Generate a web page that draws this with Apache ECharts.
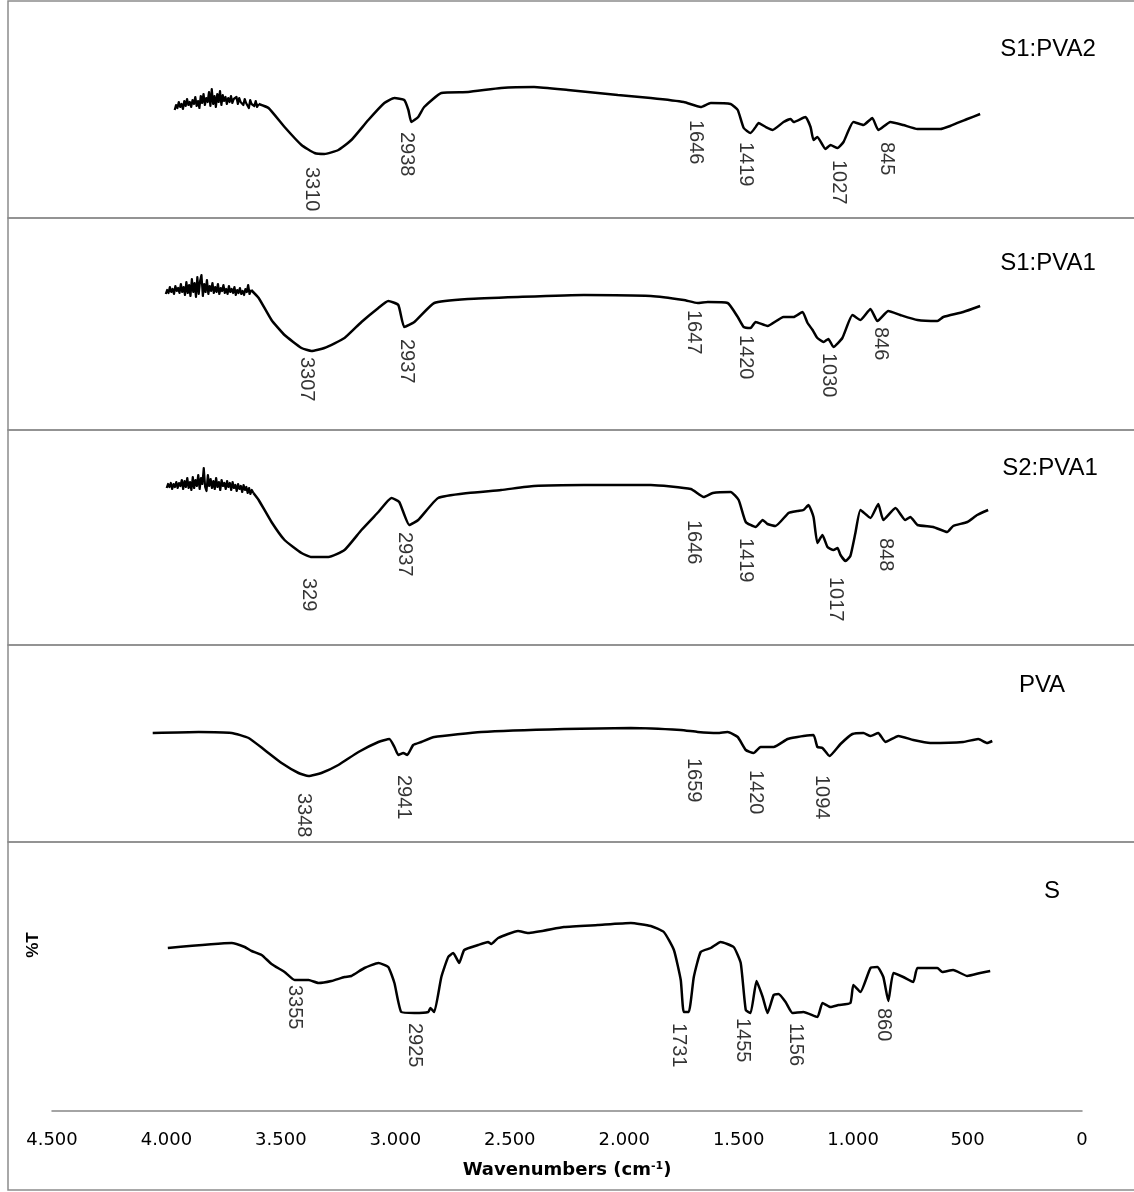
<!DOCTYPE html>
<html>
<head>
<meta charset="utf-8">
<script src="https://cdn.jsdelivr.net/npm/echarts/dist/echarts.min.js"></script>
<style>
  html, body { margin: 0; padding: 0; background: #fff; }
  #chart { width: 1134px; height: 1192px; }
</style>
</head>
<body>
<div id="chart"></div>
<script>
// FTIR spectra, [wavenumber cm-1, relative %T]
// the noisy O-H region of the three blends is kept apart so it is drawn unsmoothed
let s1pva2Noise = [[3964,70],[3958,75],[3952,72],[3946,78],[3940,73],[3934,76],[3928,71],[3922,79],[3916,74],[3910,81],[3904,75],[3898,78],[3892,73],[3886,80],[3880,76],[3874,83],[3868,74],[3862,79],[3856,72],[3850,84],[3844,77],[3838,86],[3832,75],[3826,82],[3820,78],[3814,88],[3808,74],[3802,91],[3796,76],[3790,84],[3784,73],[3778,86],[3772,78],[3766,89],[3760,75],[3754,85],[3748,79],[3742,83],[3736,76],[3730,82],[3724,78],[3718,84],[3712,77],[3706,81],[3700,79],[3694,83],[3688,76],[3682,82],[3676,78],[3670,80],[3664,75],[3658,81],[3652,77],[3646,79],[3640,72],[3634,80],[3628,76],[3622,78],[3616,74],[3610,79],[3604,73],[3597,76]]
let s1pva2 = [[3597,76],[3554,72],[3484,53],[3410,35],[3353,27],[3310,26],[3249,30],[3192,40],[3118,60],[3048,77],[3004,82],[2961,80],[2943,70],[2930,58],[2900,63],[2874,73],[2799,87],[2682,88],[2538,92],[2394,93],[2246,90],[2028,85],[1884,82],[1740,78],[1666,73],[1622,77],[1535,76],[1504,70],[1478,52],[1448,47],[1426,53],[1413,57],[1382,53],[1352,50],[1304,58],[1273,61],[1260,58],[1208,63],[1186,53],[1173,40],[1156,43],[1121,31],[1099,35],[1068,32],[1042,38],[999,58],[955,55],[916,62],[890,50],[837,58],[781,55],[719,51],[619,51],[576,54],[501,61],[445,66]]

let s1pva1Noise = [[4003,86],[3997,90],[3991,87],[3985,93],[3979,88],[3973,91],[3967,86],[3961,94],[3955,89],[3949,92],[3943,87],[3937,96],[3931,88],[3925,93],[3919,85],[3913,98],[3907,87],[3901,95],[3895,84],[3889,101],[3883,88],[3877,97],[3871,83],[3865,103],[3859,86],[3853,99],[3847,105],[3841,84],[3835,96],[3829,88],[3823,100],[3817,86],[3811,94],[3805,89],[3799,97],[3793,87],[3787,93],[3781,88],[3775,96],[3769,86],[3763,92],[3757,89],[3751,95],[3745,87],[3739,91],[3733,86],[3727,94],[3721,88],[3715,91],[3709,87],[3703,93],[3697,85],[3691,90],[3685,87],[3679,92],[3673,86],[3667,89],[3661,85],[3655,91],[3649,88],[3643,95],[3637,86],[3630,90]]
let s1pva1 = [[3630,90],[3597,82],[3541,60],[3484,45],[3410,32],[3366,29],[3310,32],[3222,42],[3148,58],[3074,72],[3031,79],[2987,75],[2961,53],[2917,58],[2830,77],[2682,81],[2464,83],[2176,85],[1884,84],[1740,80],[1679,77],[1635,78],[1548,77],[1504,63],[1478,53],[1448,52],[1426,58],[1374,54],[1304,63],[1260,63],[1221,68],[1199,57],[1177,50],[1156,42],[1129,38],[1108,41],[1086,33],[1047,42],[1003,65],[968,60],[924,71],[894,59],[846,69],[794,65],[719,60],[632,59],[606,63],[519,68],[445,74]]

let s2pva1Noise = [[3999,82],[3993,86],[3987,83],[3981,87],[3975,81],[3969,86],[3963,83],[3957,88],[3951,82],[3945,87],[3939,84],[3933,90],[3927,81],[3921,89],[3915,83],[3909,92],[3903,82],[3897,88],[3891,80],[3885,93],[3879,82],[3873,90],[3867,84],[3861,95],[3855,81],[3849,92],[3843,86],[3837,102],[3831,83],[3825,79],[3819,95],[3813,84],[3807,91],[3801,82],[3795,89],[3789,81],[3783,92],[3777,83],[3771,88],[3765,80],[3759,90],[3753,84],[3747,87],[3741,81],[3735,89],[3729,83],[3723,87],[3717,80],[3711,88],[3705,82],[3699,85],[3693,79],[3687,86],[3681,81],[3675,84],[3669,78],[3663,85],[3657,80],[3651,83],[3645,77],[3639,82],[3633,76],[3627,80],[3620,77]]
let s2pva1 = [[3620,77],[3597,70],[3541,48],[3484,30],[3410,17],[3366,13],[3292,13],[3222,20],[3148,40],[3074,58],[3017,72],[2983,68],[2939,45],[2900,50],[2813,72],[2682,77],[2538,80],[2394,84],[2176,85],[1884,85],[1709,81],[1653,73],[1613,77],[1535,78],[1500,70],[1469,48],[1426,43],[1395,50],[1374,46],[1339,44],[1282,57],[1243,59],[1217,60],[1195,65],[1173,53],[1156,27],[1134,35],[1112,23],[1086,20],[1068,22],[1055,15],[1033,9],[1012,14],[990,37],[968,60],[924,52],[890,66],[868,50],[815,62],[772,50],[750,53],[719,45],[650,43],[589,38],[563,44],[501,48],[458,55],[410,60]]

let pva = [[4060,67],[3859,68],[3715,67],[3641,62],[3571,50],[3497,37],[3423,27],[3379,24],[3323,27],[3249,35],[3161,48],[3074,58],[3026,61],[3004,53],[2987,45],[2965,47],[2948,45],[2922,55],[2887,58],[2830,63],[2625,68],[2263,71],[1971,72],[1753,70],[1679,68],[1592,67],[1548,68],[1504,63],[1469,50],[1435,47],[1404,53],[1347,53],[1286,61],[1243,63],[1217,64],[1173,65],[1156,53],[1134,52],[1103,44],[1055,56],[1003,66],[955,67],[924,64],[890,67],[859,58],[802,64],[737,60],[663,57],[519,58],[453,61],[414,57],[392,59]]

let s = [[3994,72],[3715,77],[3658,73],[3628,69],[3584,65],[3541,56],[3484,48],[3440,40],[3379,40],[3336,37],[3279,39],[3222,43],[3192,44],[3135,52],[3074,57],[3031,53],[3004,37],[2974,8],[2917,7],[2856,8],[2847,12],[2830,8],[2799,43],[2769,63],[2747,67],[2721,57],[2699,70],[2638,75],[2595,78],[2581,76],[2551,82],[2464,89],[2420,87],[2263,93],[2115,95],[1971,97],[1884,94],[1827,88],[1783,70],[1753,40],[1740,8],[1718,8],[1696,43],[1666,68],[1622,72],[1579,78],[1522,73],[1491,57],[1469,10],[1448,7],[1422,39],[1395,23],[1374,7],[1347,25],[1326,26],[1295,18],[1265,7],[1217,8],[1156,3],[1134,17],[1099,13],[1064,15],[1012,17],[999,35],[968,28],[924,52],[894,53],[868,43],[846,19],[824,47],[781,43],[737,38],[719,52],[632,52],[610,48],[563,50],[501,44],[445,47],[401,49]]

// peak annotations: where the label starts, and its text
let s1pva2Peaks = [[3366,13],[2952,48],[1688,60],[1469,38],[1064,20],[855,38]]
let s1pva2PeakLabels = ['3310','2938','1646','1419','1027','845']
let s1pva1Peaks = [[3388,23],[2952,41],[1696,70],[1469,45],[1108,27],[881,53]]
let s1pva1PeakLabels = ['3307','2937','1647','1420','1030','846']
let s2pva1Peaks = [[3379,-8],[2961,38],[1696,50],[1469,32],[1077,-7],[859,32]]
let s2pva1PeakLabels = ['329','2937','1646','1419','1017','848']
let pvaPeaks = [[3401,7],[2965,25],[1696,42],[1426,30],[1138,25]]
let pvaPeakLabels = ['3348','2941','1659','1420','1094']
let sPeaks = [[3440,35],[2917,-3],[1762,-3],[1483,2],[1251,-3],[868,12]]
let sPeakLabels = ['3355','2925','1731','1455','1156','860']

let panelNames = ['S1:PVA2', 'S1:PVA1', 'S2:PVA1', 'PVA', 'S']
let xTicks = [4500, 4000, 3500, 3000, 2500, 2000, 1500, 1000, 500, 0]
let xTickLabels = ['4.500', '4.000', '3.500', '3.000', '2.500', '2.000', '1.500', '1.000', '500', '0']

let spectra = [s1pva2, s1pva1, s2pva1, pva, s]
let noise = [s1pva2Noise, s1pva1Noise, s2pva1Noise, null, null]
let peaks = [s1pva2Peaks, s1pva1Peaks, s2pva1Peaks, pvaPeaks, sPeaks]
let peakLabels = [s1pva2PeakLabels, s1pva1PeakLabels, s2pva1PeakLabels, pvaPeakLabels, sPeakLabels]

// layout of the five stacked panels
let gridTops = [70, 270, 460, 690, 910]
let gridHeights = [130, 130, 130, 130, 201]
let yMins = [-20, -20, -20, -20, -91]
let frames = [[1, 217], [218, 212], [430, 215], [645, 197], [842, 348]]
let titlePos = [[1048, 49], [1048, 263], [1050, 468], [1042, 685], [1052, 891]]

let chart = echarts.init(document.getElementById('chart'))

let last = spectra.length - 1
let series = []
spectra.forEach((data, i) => {
  series.push({
    type: 'line',
    xAxisIndex: i,
    yAxisIndex: i,
    data: data,
    showSymbol: false,
    smooth: 0.15,
    lineStyle: { color: '#000', width: 2.5 },
    silent: true,
  })
  if (noise[i]) {
    series.push({
      type: 'line',
      xAxisIndex: i,
      yAxisIndex: i,
      data: noise[i],
      showSymbol: false,
      smooth: false,
      lineStyle: { color: '#000', width: 2.2, join: 'round' },
      silent: true,
    })
  }
  series.push({
    type: 'scatter',
    xAxisIndex: i,
    yAxisIndex: i,
    symbolSize: 1,
    itemStyle: { color: 'rgba(0,0,0,0)' },
    data: peaks[i].map((p, k) => ({ value: p, name: peakLabels[i][k] })),
    label: {
      show: true,
      formatter: '{b}',
      position: 'inside',
      rotate: -90,
      align: 'left',
      verticalAlign: 'middle',
      color: '#000',
      fontFamily: 'Liberation Sans',
      fontSize: 20,
    },
    silent: true,
  })
})

let graphic = []
frames.forEach((f) => {
  graphic.push({
    type: 'rect',
    silent: true,
    shape: { x: 8, y: f[0], width: 1140, height: f[1] },
    style: { fill: 'none', stroke: '#8c8c8c', lineWidth: 1.5 },
  })
})
panelNames.forEach((name, i) => {
  graphic.push({
    type: 'text',
    x: titlePos[i][0],
    y: titlePos[i][1],
    style: {
      text: name,
      fill: '#000',
      font: '24px "Liberation Sans"',
      align: 'center',
      verticalAlign: 'middle',
    },
  })
})
graphic.push({
  type: 'text',
  x: 33,
  y: 945,
  rotation: Math.PI / 2,
  style: {
    text: '%T',
    fill: '#000',
    font: 'bold 17px "Liberation Sans"',
    align: 'center',
    verticalAlign: 'middle',
  },
})

let option = {
  animation: false,
  backgroundColor: '#fff',
  grid: spectra.map((_, i) => ({ left: 52, right: 52, top: gridTops[i], height: gridHeights[i] })),
  xAxis: spectra.map((_, i) => ({
    type: 'value',
    gridIndex: i,
    min: 0,
    max: 4500,
    interval: 500,
    inverse: true,
    show: i === last,
    axisLine: { show: true, onZero: false, lineStyle: { color: '#868686', width: 1.5 } },
    axisTick: { show: false },
    splitLine: { show: false },
    axisLabel: {
      margin: 20,
      color: '#000',
      fontFamily: 'DejaVu Sans',
      fontSize: 18,
      showMinLabel: true,
      showMaxLabel: true,
      formatter: (v) => xTickLabels[xTicks.indexOf(v)],
    },
    name: i === last ? 'Wavenumbers (cm{sup|-1})' : '',
    nameLocation: 'middle',
    nameGap: 50,
    nameTextStyle: {
      color: '#000',
      fontFamily: 'DejaVu Sans',
      fontWeight: 'bold',
      fontSize: 18,
      rich: {
        sup: { fontSize: 11, fontWeight: 'bold', verticalAlign: 'top', color: '#000', fontFamily: 'DejaVu Sans' },
      },
    },
  })),
  yAxis: spectra.map((_, i) => ({
    type: 'value',
    gridIndex: i,
    min: yMins[i],
    max: 110,
    show: false,
    splitLine: { show: false },
  })),
  graphic: graphic,
  series: series,
}

chart.setOption(option)
</script>
</body>
</html>
